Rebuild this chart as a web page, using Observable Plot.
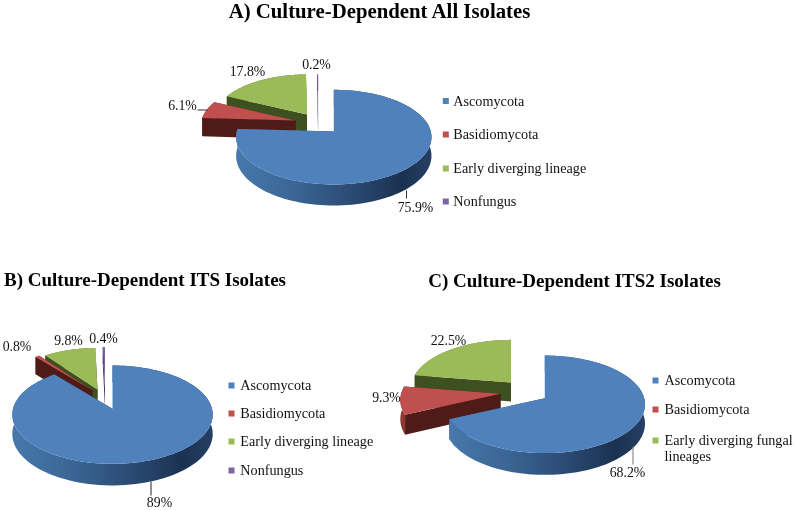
<!DOCTYPE html>
<html><head><meta charset="utf-8">
<script src="https://cdn.jsdelivr.net/npm/d3@7"></script>
<script src="https://cdn.jsdelivr.net/npm/@observablehq/plot@0.6"></script>
<style>html,body{margin:0;padding:0;background:#fff}svg{display:block;filter:blur(0.35px)}</style>
</head><body><div id="chart"></div>
<script>
// ---- data
const categories = ["Ascomycota", "Basidiomycota", "Early diverging lineage", "Nonfungus"];
const categoriesC = ["Ascomycota", "Basidiomycota", "Early diverging fungal", "lineages"];
const valuesA = [75.9, 6.1, 17.8, 0.2];
const valuesB = [89, 0.8, 9.8, 0.4];
const valuesC = [68.2, 9.3, 22.5];
const titles = ["A) Culture-Dependent All Isolates", "B) Culture-Dependent ITS Isolates", "C) Culture-Dependent ITS2 Isolates"];

// ---- layout
const tops  = ["#4f81bd", "#c0504d", "#9bbb59", "#8064a2"];
const sides = ["#2c4d76", "#4f1b19", "#3f5020", "#3c2a55"];
const rims  = ["url(#rimBlue)", "#8d3734", "#5d7335", "#4b3a63"];
const pies = [
  {values: valuesA, rx: 97, ry: 46.7, p: .119, d: 18.5, order: [2, 3, 1, 0],
   apex: [[333.3,131,1],[295,120,.97],[306.5,114,.96],[317.6,114,.96]]},
  {values: valuesB, rx: 99.5, ry: 48.5, p: .119, d: 19, order: [3, 2, 1, 0],
   apex: [[112,408.3,1],[92,390,.98],[97,389,.96],[104.5,389,.98]]},
  {values: valuesC, rx: 99.4, ry: 48, p: .126, d: 19, order: [2, 1, 0],
   apex: [[544.3,397.7,1],[500,393.3,1],[510.5,382,1]]}
];
const rows = [];
let nextId = 0;
function poly(fill, pts) { const id = nextId++; for (const [x, y] of pts) rows.push({id, fill, x, y}); }
pies.forEach(pie => {
  const arcs = d3.pie().sort(null).startAngle(0).endAngle(2 * Math.PI)(pie.values);
  for (const i of pie.order) {
    const a = arcs[i], [ax, ay, k] = pie.apex[i];
    const P = (t, r, z) => {
      const u = r * Math.sin(t), v = r * Math.cos(t), w = 1 + pie.p * v;
      return [ax + k * pie.rx * u / w, ay - k * pie.ry * v / w + z * pie.d / w];
    };
    const ts = d3.range(0, 121).map(j => a.startAngle + (a.endAngle - a.startAngle) * j / 120);
    poly(sides[i], [P(a.endAngle,0,0), P(a.endAngle,1,0), P(a.endAngle,1,1), P(a.endAngle,0,1)]);
    poly(rims[i], [...ts.map(t => P(t,1,0)), ...ts.slice().reverse().map(t => P(t,1,1))]);
    poly(sides[i], [P(a.startAngle,0,0), P(a.startAngle,1,0), P(a.startAngle,1,1), P(a.startAngle,0,1)]);
    poly(tops[i], [P(0,0,0), ...ts.map(t => P(t,1,0))]);
  }
});

const fmt = v => v + "%";
const labels = [
  {t: fmt(valuesA[0]), x: 415, y: 207}, {t: fmt(valuesA[1]), x: 182, y: 105},
  {t: fmt(valuesA[2]), x: 247, y: 71}, {t: fmt(valuesA[3]), x: 316, y: 64},
  {t: fmt(valuesB[0]), x: 159, y: 502}, {t: fmt(valuesB[1]), x: 16.5, y: 346},
  {t: fmt(valuesB[2]), x: 68, y: 340}, {t: fmt(valuesB[3]), x: 103, y: 338},
  {t: fmt(valuesC[0]), x: 627, y: 472}, {t: fmt(valuesC[1]), x: 386, y: 397},
  {t: fmt(valuesC[2]), x: 448, y: 340}
];
const leaders = [
  {x1: 197, y1: 109.5, x2: 207, y2: 109.5, c: "#333"},
  {x1: 406, y1: 190, x2: 406, y2: 198, c: "#333"},
  {x1: 150.5, y1: 481, x2: 150.5, y2: 495, c: "#222"},
  {x1: 632.5, y1: 446, x2: 632.5, y2: 464, c: "#777"}
];
const titleRows = [
  {t: titles[0], x: 379, y: 11, s: 20.8}, {t: titles[1], x: 144.5, y: 279, s: 19}, {t: titles[2], x: 574, y: 280, s: 19}
];
const legendRows = [
  ...[100.5, 134, 168, 201].map((y, i) => ({t: categories[i], i, x: 445.3, y, dx: 7.5})),
  ...[385, 413, 441, 470].map((y, i) => ({t: categories[i], i, x: 231, y, dx: 8.8})),
  ...[380, 409, 440].map((y, i) => ({t: categoriesC[i], i, x: 655, y, dx: 9}))
];
const legendExtra = [{t: categoriesC[3], x: 664, y: 456}];

const defs = () => {
  const s = d3.create("svg:defs");
  const g = s.append("linearGradient").attr("id", "rimBlue");
  [[0,"#4878ac"],[.3,"#3b6594"],[.6,"#2a4a73"],[.85,"#1b3150"],[1,"#263f64"]].forEach(([o,c]) =>
    g.append("stop").attr("offset", o).attr("stop-color", c));
  return s.node();
};

const font = "Liberation Serif";
const plot = Plot.plot({
  width: 795, height: 510, margin: 0,
  x: {domain: [0, 795], range: [0, 795], axis: null},
  y: {domain: [0, 510], range: [0, 510], axis: null},
  color: {type: "identity"},
  style: {fontFamily: font, background: "#fff"},
  marks: [
    defs,
    Plot.line(rows, {x: "x", y: "y", z: "id", fill: "fill", stroke: "none"}),
    Plot.link(leaders, {x1: "x1", y1: "y1", x2: "x2", y2: "y2", stroke: "c", strokeWidth: 1}),
    Plot.text(labels, {x: "x", y: "y", text: "t", fontSize: 13.8, fill: "#111", fontFamily: font}),
    Plot.text(titleRows, {x: "x", y: "y", text: "t", fontSize: "s", fontWeight: "bold", fill: "#000", fontFamily: font}),
    Plot.dot(legendRows, {x: "x", y: "y", symbol: "square", r: 3.4, stroke: "none", fill: d => tops[d.i]}),
    Plot.text(legendRows, {x: d => d.x + d.dx, y: "y", text: "t", textAnchor: "start", fontSize: 14.2, fill: "#111", fontFamily: font}),
    Plot.text(legendExtra, {x: "x", y: "y", text: "t", textAnchor: "start", fontSize: 14.2, fill: "#111", fontFamily: font})
  ]
});
document.getElementById("chart").append(plot);
</script></body></html>
